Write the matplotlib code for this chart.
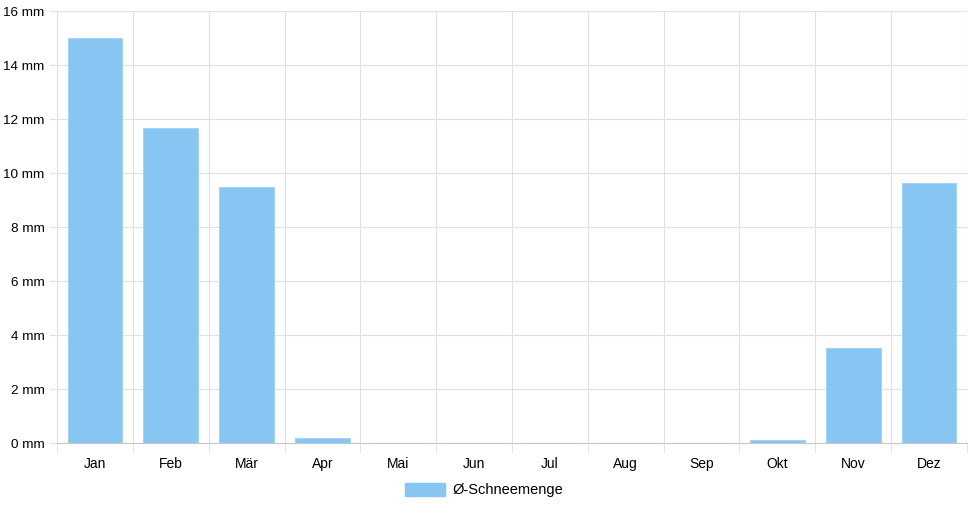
import matplotlib.pyplot as plt
import numpy as np
from matplotlib.patches import Patch

plt.rcParams['font.family'] = ['Liberation Sans', 'DejaVu Sans']

# data
months = ['Jan', 'Feb', 'Mär', 'Apr', 'Mai', 'Jun', 'Jul', 'Aug', 'Sep', 'Okt', 'Nov', 'Dez']
snow = [15.0, 11.67, 9.48, 0.2, 0, 0, 0, 0, 0, 0.12, 3.52, 9.63]
yticks = [0, 2, 4, 6, 8, 10, 12, 14, 16]

bar_color = '#87c5f2'
grid_color = '#e1e1e1'

fig = plt.figure(figsize=(9.68, 5.08), dpi=100)
ax = fig.add_axes([57/968, 1-443/508, 910/968, 432/508])

x = np.arange(len(months))
ax.bar(x, snow, width=0.72, color=bar_color, edgecolor='#a5d3f5', linewidth=0.8, zorder=3)

ax.set_xlim(-0.5, len(months)-0.5)
ax.set_ylim(0, 16)

ax.set_yticks(yticks)
ax.set_yticklabels([f'{v} mm' for v in yticks], fontsize=9.7)
ax.set_xticks(x)
ax.set_xticklabels(months, fontsize=10)
ax.set_xticks(np.arange(len(months)+1)-0.5, minor=True)

ax.tick_params(axis='x', which='major', length=0, pad=10)
ax.tick_params(axis='x', which='minor', length=7, color=grid_color)
ax.tick_params(axis='y', length=6, color=grid_color, pad=3)

ax.grid(axis='y', color=grid_color, linewidth=0.8, zorder=0)
ax.grid(axis='x', which='minor', color=grid_color, linewidth=0.8, zorder=0)

for s in ['top', 'right']:
    ax.spines[s].set_visible(False)
ax.spines['left'].set_color(grid_color)
ax.spines['bottom'].set_color('#c8c8c8')

handle = Patch(facecolor=bar_color, edgecolor=bar_color)
fig.legend([handle], ['Ø-Schneemenge'], loc='center', bbox_to_anchor=(0.5, 1-490/508),
           frameon=False, fontsize=10.5, handlelength=2.8, handleheight=1.0, handletextpad=0.5)

fig.savefig('out.png', dpi=100)
